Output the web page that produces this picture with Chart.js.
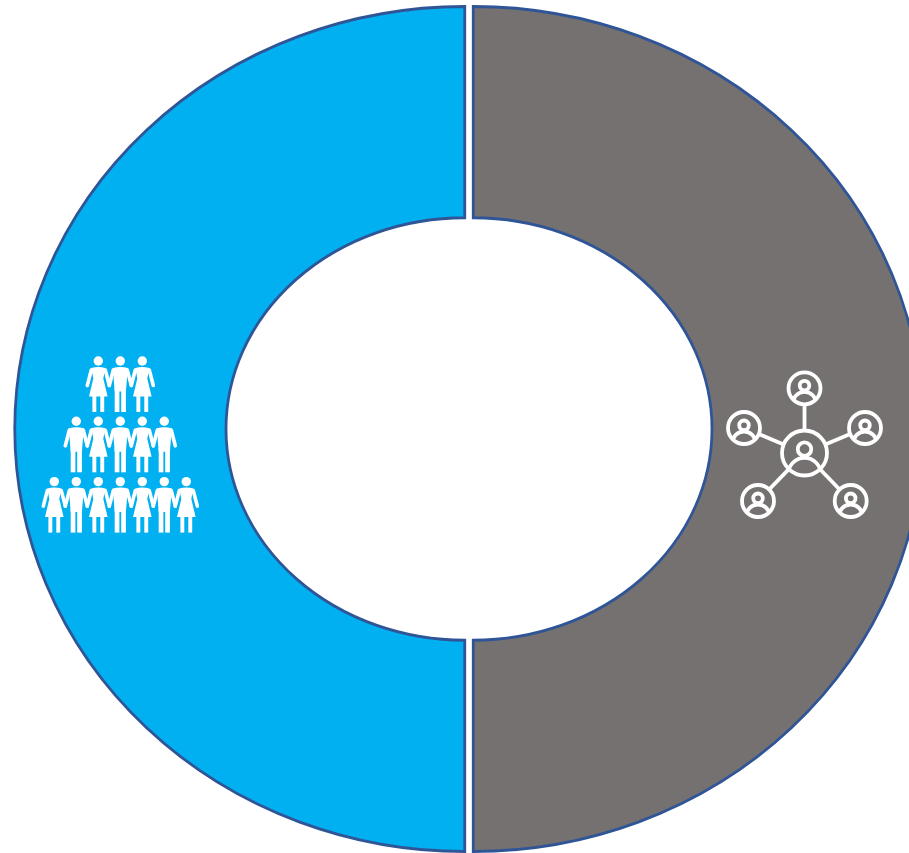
<!DOCTYPE html>
<html>
<head>
<meta charset="utf-8">
<title>Network and people ring</title>
<style>
    html, body { margin: 0; padding: 0; background: #ffffff; overflow: hidden; }
    canvas { display: block; }
</style>
<script src="https://cdn.jsdelivr.net/npm/chart.js@4"></script>
</head>
<body>
<canvas id="ring" width="909" height="853"></canvas>
<script>
(function () {
    "use strict";

    const categories = ["Network", "People"];
    const shares     = [50, 50];
    const fills      = ["#767171", "#00B0F0"];

    // W = woman figure, M = man figure, one string per row of the pictogram
    const peopleRows = ["WMW", "MWMWM", "WMWMWMW"];

    // the source ring is wider than tall, the band keeps the same thickness all round
    const STRETCH_X = 27.5;

    class EllipseArc extends Chart.ArcElement {
        draw(ctx) {
            const { x, y, startAngle, endAngle, outerRadius, innerRadius } =
                this.getProps(["x", "y", "startAngle", "endAngle", "outerRadius", "innerRadius"]);
            const o = this.options;
            const mid = (startAngle + endAngle) / 2;

            ctx.save();
            ctx.translate(x + Math.cos(mid) * o.offset, y + Math.sin(mid) * o.offset);
            ctx.beginPath();
            ctx.ellipse(0, 0, outerRadius + STRETCH_X, outerRadius, 0, startAngle, endAngle);
            ctx.ellipse(0, 0, innerRadius + STRETCH_X, innerRadius, 0, endAngle, startAngle, true);
            ctx.closePath();
            ctx.fillStyle = o.backgroundColor;
            ctx.fill();
            ctx.lineWidth = o.borderWidth;
            ctx.strokeStyle = o.borderColor;
            ctx.lineJoin = "miter";
            ctx.stroke();
            ctx.restore();
        }
    }
    EllipseArc.id = "ellipseArc";
    EllipseArc.defaults = Chart.ArcElement.defaults;

    class RingController extends Chart.DoughnutController {}
    RingController.id = "ring";
    RingController.defaults = { dataElementType: "ellipseArc" };
    RingController.overrides = Chart.DoughnutController.overrides;

    Chart.register(EllipseArc, RingController);

    function drawPerson(ctx, cx, headY, kind) {
        ctx.beginPath();
        ctx.arc(cx, headY, 4.7, 0, Math.PI * 2);
        ctx.fill();

        const top = headY + 6.5;
        const woman = kind === "W";

        // arms
        ctx.lineWidth = 3.6;
        ctx.lineCap = "round";
        ctx.beginPath();
        ctx.moveTo(cx - 7, top + 2.5);
        ctx.lineTo(cx - 11, top + 18);
        ctx.moveTo(cx + 7, top + 2.5);
        ctx.lineTo(cx + 11, top + 18);
        ctx.stroke();

        // body
        ctx.beginPath();
        if (woman) {
            ctx.moveTo(cx - 7, top + 0.5);
            ctx.quadraticCurveTo(cx, top - 1.5, cx + 7, top + 0.5);
            ctx.lineTo(cx + 5, top + 11);
            ctx.lineTo(cx + 9.3, top + 29);
            ctx.lineTo(cx - 9.3, top + 29);
            ctx.lineTo(cx - 5, top + 11);
        } else {
            ctx.moveTo(cx - 7.5, top + 0.5);
            ctx.quadraticCurveTo(cx, top - 1.5, cx + 7.5, top + 0.5);
            ctx.lineTo(cx + 5.6, top + 24);
            ctx.lineTo(cx - 5.6, top + 24);
        }
        ctx.closePath();
        ctx.fill();

        // legs
        const inner = woman ? 2 : 0.9;
        const outer = woman ? 5.9 : 5.6;
        const legTop = top + 20;
        const legBottom = headY + 51;
        ctx.fillRect(cx - outer, legTop, outer - inner, legBottom - legTop);
        ctx.fillRect(cx + inner, legTop, outer - inner, legBottom - legTop);
    }

    function drawContact(ctx, cx, cy, r) {
        ctx.beginPath();
        ctx.arc(cx, cy, r, 0, Math.PI * 2);
        ctx.stroke();

        ctx.save();
        ctx.beginPath();
        ctx.arc(cx, cy, r, 0, Math.PI * 2);
        ctx.clip();
        const headY = cy - r * 0.17;
        ctx.beginPath();
        ctx.arc(cx, headY, r * 0.3, 0, Math.PI * 2);
        ctx.stroke();
        ctx.beginPath();
        ctx.arc(cx, cy + r * 0.95, r * 0.73, 0, Math.PI * 2);
        ctx.stroke();
        ctx.restore();
    }

    const pictograms = {
        id: "pictograms",
        afterDraw(chart) {
            const ctx = chart.ctx;
            ctx.save();
            ctx.fillStyle = "#ffffff";
            ctx.strokeStyle = "#ffffff";

            // people pyramid, rows centred on the middle figure
            peopleRows.forEach((row, i) => {
                const headY = 361 + i * 60.3;
                [...row].forEach((kind, j) => {
                    drawPerson(ctx, 120.3 + (j - (row.length - 1) / 2) * 22, headY, kind);
                });
            });

            // network of contacts
            const hub = { x: 804.5, y: 453, r: 22.5 };
            const spokes = [
                { x: 804.5, y: 388.3 },
                { x: 744,   y: 428 },
                { x: 865,   y: 428 },
                { x: 758,   y: 501 },
                { x: 850.7, y: 501 }
            ];
            ctx.lineWidth = 3.8;
            ctx.lineCap = "butt";
            spokes.forEach(s => {
                const a = Math.atan2(s.y - hub.y, s.x - hub.x);
                ctx.beginPath();
                ctx.moveTo(hub.x + Math.cos(a) * hub.r, hub.y + Math.sin(a) * hub.r);
                ctx.lineTo(s.x - Math.cos(a) * 16, s.y - Math.sin(a) * 16);
                ctx.stroke();
            });
            [hub].concat(spokes.map(s => ({ x: s.x, y: s.y, r: 16 }))).forEach(c => {
                drawContact(ctx, c.x, c.y, c.r);
            });
            ctx.restore();
        }
    };

    new Chart(document.getElementById("ring"), {
        type: "ring",
        data: {
            labels: categories,
            datasets: [{
                data: shares,
                backgroundColor: fills,
                borderColor: "#2F5597",
                borderWidth: 2.8,
                offset: 4.25
            }]
        },
        options: {
            responsive: false,
            animation: false,
            events: [],
            radius: 422.5,
            cutout: "50%",
            layout: { padding: { left: 29, top: 5 } },
            plugins: {
                legend: { display: false },
                tooltip: { enabled: false }
            }
        },
        plugins: [pictograms]
    });
})();
</script>
</body>
</html>
